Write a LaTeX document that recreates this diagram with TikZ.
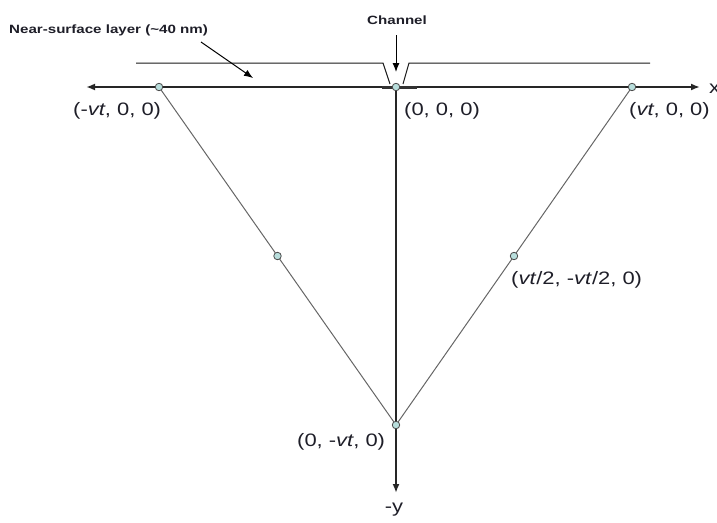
\documentclass[tikz,border=0pt]{standalone}
\usepackage{fontspec}
\setmainfont{Liberation Sans}
\newfontfamily\labfont[FakeStretch=1.22]{Liberation Sans}
\newfontfamily\ttlfont[FakeStretch=1.26]{Liberation Sans}
\usetikzlibrary{arrows.meta}
\definecolor{ptfill}{HTML}{B8DEDC}
\definecolor{txt}{HTML}{1E1E28}
\pgfdeclarelayer{bg}
\pgfsetlayers{bg,main}
\begin{document}
\begin{tikzpicture}[x=1pt,y=-1pt,
  lab/.style={font=\labfont\fontsize{18}{20}\selectfont, text=txt, inner sep=0pt, anchor=base west},
  ttl/.style={font=\ttlfont\bfseries\fontsize{12}{14}\selectfont, text=txt, inner sep=0pt, anchor=base west},
  pt/.style={circle, draw=black!70, fill=ptfill, minimum size=7.5pt, inner sep=0pt, line width=0.8pt},
  axisline/.style={line width=1.8pt, draw=black!85},
  edgeline/.style={line width=1pt, draw=black!60},
  layerline/.style={line width=1pt, draw=black!90},
  tip/.style={-{Latex[length=9pt,width=7pt]}}]
\useasboundingbox (0,0) rectangle (717,522);

% points
\node[pt] (A) at (159,87) {};
\node[pt] (O) at (396,87) {};
\node[pt] (C) at (632,87) {};
\node[pt] (D) at (396,425) {};
\node[pt] (M1) at (277.5,256) {};
\node[pt] (M2) at (514,256) {};

% axis ends
\coordinate (xl) at (86,87);
\coordinate (xr) at (700,87);
\coordinate (yb) at (396,493);

% near-surface layer outline
\coordinate (L1) at (136,63);
\coordinate (L2) at (383,63);
\coordinate (L3) at (390,84);
\coordinate (R1) at (403,84);
\coordinate (R2) at (409,63);
\coordinate (R3) at (650,63);
\coordinate (T1) at (382,87);
\coordinate (T2) at (417,87);

% labels
\node[ttl] (nsl) at (9,33) {Near-surface layer (\textasciitilde40 nm)};
\node[ttl] (chan) at (367,24) {Channel};
\coordinate (nslA) at (201,42);
\coordinate (nslB) at (253,78);
\coordinate (chA) at (396,35);
\coordinate (chB) at (396,72);

\node[lab] (lA) at (73,115) {(-\textit{vt}, 0, 0)};
\node[lab] (lO) at (404,115) {(0, 0, 0)};
\node[lab] (lC) at (629,115) {(\textit{vt}, 0, 0)};
\node[lab] (lM) at (511,284) {(\textit{vt}/2, -\textit{vt}/2, 0)};
\node[lab] (lD) at (297,446) {(0, -\textit{vt}, 0)};
\node[lab, anchor=base] (ly) at (394,512) {-y};
\node[lab] (lx) at (709,93) {x};

\begin{pgfonlayer}{bg}
  \draw[edgeline] (A.center) -- (D.center) -- (C.center);
  \draw[axisline, {Latex[length=9pt,width=7pt]}-{Latex[length=9pt,width=7pt]}] (xl) -- (xr);
  \draw[axisline, tip] (O.center) -- (yb);
  \draw[line width=3pt, black!80] (T1) -- (T2);
  \draw[layerline] (L1) -- (L2) -- (L3);
  \draw[layerline] (R1) -- (R2) -- (R3);
  \draw[line width=1pt, tip] (nslA) -- (nslB);
  \draw[line width=1pt, tip] (chA) -- (chB);
\end{pgfonlayer}
\end{tikzpicture}
\end{document}
